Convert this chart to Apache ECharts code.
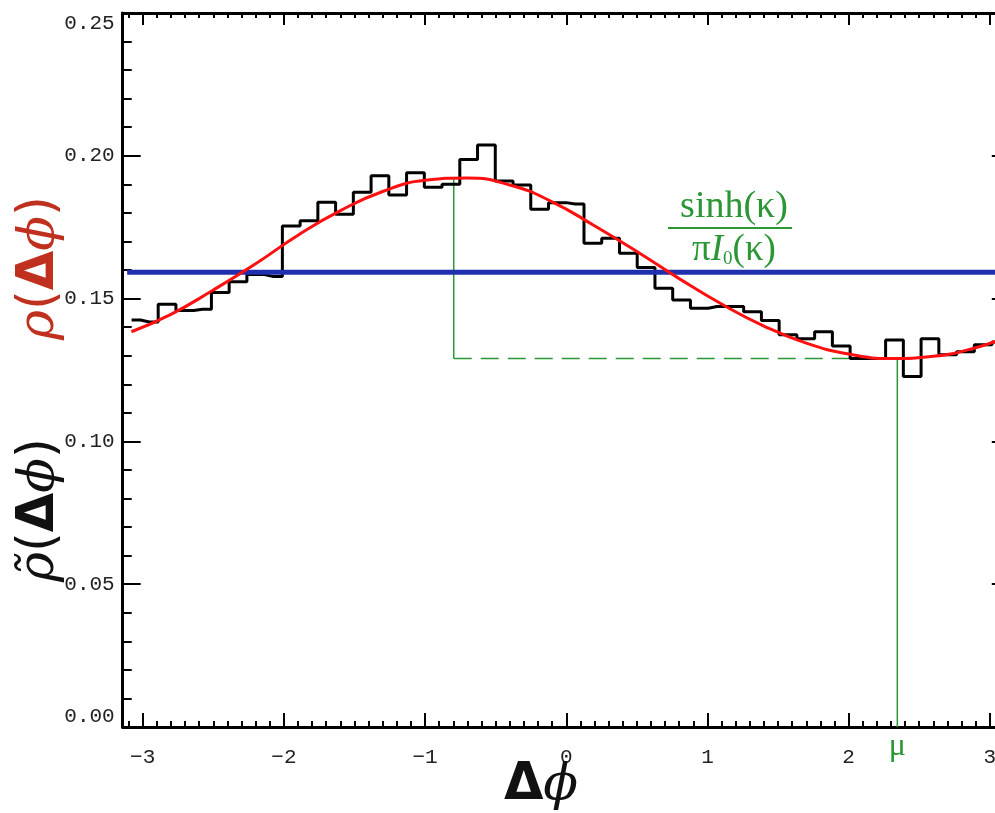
<!DOCTYPE html>
<html><head><meta charset="utf-8">
<script src="https://cdn.jsdelivr.net/npm/echarts@6/dist/echarts.min.js"></script>
<style>html,body{margin:0;padding:0;background:#fff}#c{width:995px;height:813px}</style>
</head><body><div id="c"></div><script>
const PI = Math.PI;
// histogram bin heights (50 bins over [-pi, pi])
const histValues = [0.1425,0.1418,0.1480,0.1458,0.1463,0.1521,0.1559,0.1584,0.1577,0.1754,
  0.1773,0.1837,0.1795,0.1872,0.1930,0.1863,0.1941,0.1890,0.1900,0.1987,
  0.2038,0.1912,0.1898,0.1813,0.1836,0.1831,0.1694,0.1711,0.1659,0.1609,
  0.1536,0.1495,0.1466,0.1472,0.1472,0.1454,0.1423,0.1373,0.1359,0.1384,
  0.1334,0.1290,0.1290,0.1355,0.1227,0.1359,0.1303,0.1314,0.1338,0.1348];
// fitted curve samples
const curveX = [-3.08,-2.8,-2.5,-2.2,-1.9,-1.6,-1.3,-1.0,-0.7,-0.4,-0.1,0.2,0.5,0.8,1.1,1.4,1.7,2.0,2.3,2.6,2.9,3.1416];
const curveY = [0.1384,0.1445,0.1530,0.1622,0.1722,0.1808,0.1875,0.1914,0.1922,0.1898,0.1839,0.1755,0.1665,0.1570,0.1481,0.1404,0.1344,0.1306,0.1290,0.1298,0.1328,0.1370];
// uniform level
const uniformX = [-3.11, 3.1416];
const uniformLevel = 0.1592;
// annotation values
const muX = 2.345;
const peakX = -0.797;
const peakVal = 0.1918;
const troughVal = 0.129;
// ticks
const xMajorTicks = [-3,-2,-1,0,1,2,3];
const xMinorTicks = [];
for (let k = -31; k <= 31; k++) { if (k % 10 !== 0) xMinorTicks.push(k / 10); }
const yTickInterval = 0.05;

const binW = 2 * PI / histValues.length;
const histData = histValues.map((v, i) => [-PI + (i + 0.5) * binW, v]);
const curveData = curveX.map((x, i) => [x, curveY[i]]);

const GREEN = '#2a9634';
const monoFont = 'Liberation Mono, DejaVu Sans Mono, monospace';
const fmtX = v => (v < 0 ? '\u2212' + Math.abs(v) : String(v));

const gridBox = {left: 122.7, top: 13, width: 887.1, height: 714, outerBoundsMode: 'none', containLabel: false};
const axisLineStyle = {show: true, onZero: false, lineStyle: {color: '#000', width: 3}};

const chart = echarts.init(document.getElementById('c'), null, {renderer: 'canvas'});
chart.setOption({
  animation: false,
  backgroundColor: '#fff',
  grid: [Object.assign({}, gridBox), Object.assign({}, gridBox)],
  xAxis: [
    {gridIndex: 0, type: 'value', position: 'bottom', min: -PI, max: PI,
     axisLine: axisLineStyle,
     axisTick: {show: true, inside: true, length: 14, lineStyle: {color: '#000', width: 2}, customValues: xMajorTicks},
     axisLabel: {show: true, customValues: xMajorTicks, formatter: fmtX, margin: 20,
       fontFamily: monoFont, fontSize: 21, color: '#222'},
     splitLine: {show: false}},
    {gridIndex: 0, type: 'value', position: 'top', min: -PI, max: PI,
     axisLine: axisLineStyle,
     axisTick: {show: true, inside: true, length: 12, lineStyle: {color: '#000', width: 2}, customValues: xMajorTicks},
     axisLabel: {show: false}, splitLine: {show: false}},
    {gridIndex: 1, type: 'value', position: 'bottom', min: -PI, max: PI,
     axisLine: {show: false},
     axisTick: {show: true, inside: true, length: 6, lineStyle: {color: '#000', width: 2}, customValues: xMinorTicks},
     axisLabel: {show: false}, splitLine: {show: false}},
    {gridIndex: 1, type: 'value', position: 'top', min: -PI, max: PI,
     axisLine: {show: false},
     axisTick: {show: true, inside: true, length: 5, lineStyle: {color: '#000', width: 2}, customValues: xMinorTicks},
     axisLabel: {show: false}, splitLine: {show: false}}
  ],
  yAxis: [
    {gridIndex: 0, type: 'value', position: 'left', min: 0, max: 0.25, interval: yTickInterval,
     axisLine: axisLineStyle,
     axisTick: {show: true, inside: true, length: 18, lineStyle: {color: '#000', width: 2}},
     minorTick: {show: true, splitNumber: 5, length: 9, lineStyle: {color: '#000', width: 2}},
     axisLabel: {show: true, formatter: v => v.toFixed(2), margin: 8, fontFamily: monoFont, fontSize: 21, color: '#222',
       verticalAlignMaxLabel: 'top', verticalAlignMinLabel: 'bottom'},
     splitLine: {show: false}},
    {gridIndex: 0, type: 'value', position: 'right', min: 0, max: 0.25, interval: yTickInterval,
     axisLine: axisLineStyle,
     axisTick: {show: true, inside: true, length: 18, lineStyle: {color: '#000', width: 2}},
     minorTick: {show: true, splitNumber: 5, length: 9, lineStyle: {color: '#000', width: 2}},
     axisLabel: {show: false}, splitLine: {show: false}},
    {gridIndex: 1, type: 'value', show: false, min: 0, max: 0.25}
  ],
  series: [
    {type: 'line', name: 'peakDrop', xAxisIndex: 0, yAxisIndex: 0, z: 1, symbol: 'none', silent: true,
     data: [[peakX, peakVal], [peakX, troughVal]], lineStyle: {color: GREEN, width: 1.5}},
    {type: 'line', name: 'troughLevel', xAxisIndex: 0, yAxisIndex: 0, z: 1, symbol: 'none', silent: true,
     data: [[peakX, troughVal], [muX, troughVal]], lineStyle: {color: GREEN, width: 1.5, type: [18, 9]}},
    {type: 'line', name: 'mu', xAxisIndex: 0, yAxisIndex: 0, z: 1, symbol: 'none', silent: true,
     data: [[muX, troughVal], [muX, 0]], lineStyle: {color: GREEN, width: 1.5}},
    {type: 'line', name: 'histogram', xAxisIndex: 0, yAxisIndex: 0, z: 2, symbol: 'none', step: 'middle',
     data: histData, lineStyle: {color: '#000', width: 3}},
    {type: 'line', name: 'uniform', xAxisIndex: 0, yAxisIndex: 0, z: 3, symbol: 'none',
     data: uniformX.map(x => [x, uniformLevel]), lineStyle: {color: '#1f2fae', width: 5}},
    {type: 'line', name: 'fit', xAxisIndex: 0, yAxisIndex: 0, z: 4, symbol: 'none', smooth: 0.5,
     data: curveData, lineStyle: {color: '#ff1010', width: 3}}
  ]
});

const muPx = chart.convertToPixel({xAxisIndex: 0, yAxisIndex: 0}, [muX, 0]);
const serif = 'Liberation Serif, DejaVu Serif, serif';
const titleRich = {
  i: {fontFamily: 'DejaVu Serif, serif', fontStyle: 'italic', fontSize: 51},
  p: {fontFamily: 'DejaVu Sans, sans-serif', fontSize: 51},
  d: {fontFamily: 'DejaVu Sans, sans-serif', fontWeight: 'bold', fontSize: 51}
};
function richWithColor(color) {
  const r = {};
  for (const k in titleRich) r[k] = Object.assign({fill: color}, titleRich[k]);
  return r;
}
chart.setOption({
  graphic: [
    {type: 'text', x: 40, y: 268, rotation: PI / 2, z: 10,
     style: {text: '{i|\u03c1}{p|(}{d|\u0394}{i|\u03d5}{p|)}', rich: richWithColor('#c0301e'), align: 'center', verticalAlign: 'middle'}},
    {type: 'text', x: 40, y: 510, rotation: PI / 2, z: 10,
     style: {text: '{i|\u03c1\u0303}{p|(}{d|\u0394}{i|\u03d5}{p|)}', rich: richWithColor('#111'), align: 'center', verticalAlign: 'middle'}},
    {type: 'text', x: 541, y: 786, z: 10,
     style: {text: '{d|\u0394}{i|\u03d5}', rich: richWithColor('#111'), align: 'center', verticalAlign: 'middle'}},
    {type: 'text', x: muPx[0], y: muPx[1] + 20, z: 10,
     style: {text: '\u03bc', fontFamily: serif, fontSize: 32, fill: GREEN, align: 'center', verticalAlign: 'middle'}},
    {type: 'text', x: 734, y: 207, z: 10,
     style: {text: 'sinh(\u03ba)', fontFamily: serif, fontSize: 38, fill: GREEN, align: 'center', verticalAlign: 'middle'}},
    {type: 'line', z: 10, shape: {x1: 668, y1: 228, x2: 792, y2: 228}, style: {stroke: GREEN, lineWidth: 2}},
    {type: 'text', x: 734, y: 250, z: 10,
     style: {text: '{a|\u03c0}{b|I}{s|0}{a|(\u03ba)}', align: 'center', verticalAlign: 'middle',
       rich: {a: {fontFamily: serif, fontSize: 37, fill: GREEN},
              b: {fontFamily: serif, fontStyle: 'italic', fontSize: 37, fill: GREEN},
              s: {fontFamily: serif, fontSize: 19, fill: GREEN, padding: [18, 0, 0, 0]}}}}
  ]
});
</script></body></html>
